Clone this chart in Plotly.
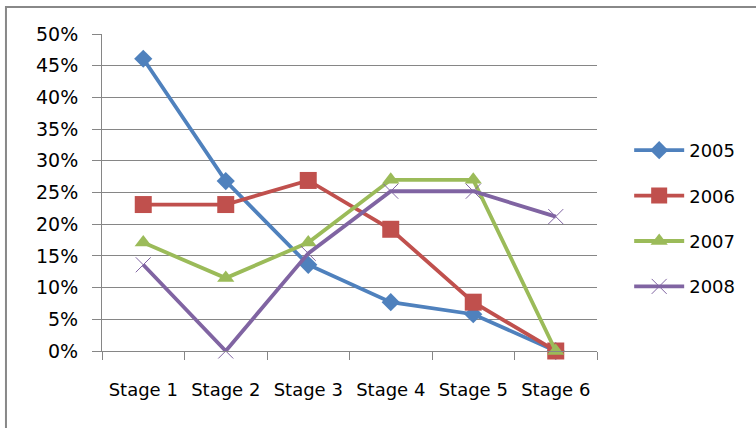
import plotly.graph_objects as go

stages = ["Stage 1", "Stage 2", "Stage 3", "Stage 4", "Stage 5", "Stage 6"]
series_names = ["2005", "2006", "2007", "2008"]
v2005 = [0.461, 0.268, 0.136, 0.077, 0.058, 0.0]
v2006 = [0.231, 0.231, 0.269, 0.192, 0.077, 0.0]
v2007 = [0.171, 0.115, 0.171, 0.270, 0.270, 0.0]
v2008 = [0.136, 0.0, 0.154, 0.252, 0.252, 0.212]
y_ticks = [0, 0.05, 0.10, 0.15, 0.20, 0.25, 0.30, 0.35, 0.40, 0.45, 0.50]

colors = ["#4F81BD", "#C0504D", "#9BBB59", "#8064A2"]
symbols = ["diamond", "square", "triangle-up", "x-thin"]
sizes = [14, 17, 15, 15]
values = [v2005, v2006, v2007, v2008]

fig = go.Figure()
for i, name in enumerate(series_names):
    fig.add_trace(go.Scatter(
        x=stages, y=values[i], name=name, mode="lines+markers",
        line=dict(color=colors[i], width=3.8),
        marker=dict(symbol=symbols[i], size=sizes[i], color=colors[i],
                    line=dict(color=colors[i], width=1 if symbols[i] == "x-thin" else 0)),
        cliponaxis=False, legendgroup=name,
    ))

grid = "#868686"
fig.update_layout(
    width=756, height=428,
    margin=dict(l=102, r=159, t=34, b=77),
    paper_bgcolor="white", plot_bgcolor="white",
    font=dict(family="DejaVu Sans", size=18, color="black"),
    showlegend=True,
    legend=dict(x=1.065, xanchor="left", y=0.418, yanchor="middle",
                font=dict(family="DejaVu Sans", size=18, color="black"),
                itemwidth=50,
                tracegroupgap=19, bgcolor="rgba(0,0,0,0)"),
    xaxis=dict(type="category", showgrid=False, showline=True, linecolor=grid, linewidth=1,
               ticks="outside", tickson="boundaries", ticklen=8, tickcolor=grid,
               ticklabelstandoff=22, range=[-0.5, 5.5]),
    yaxis=dict(range=[0, 0.5], tickvals=y_ticks, tickformat=".0%", showgrid=True,
               gridcolor=grid, gridwidth=1, showline=True, linecolor=grid, linewidth=1,
               ticks="outside", ticklen=9, tickcolor=grid, ticklabelstandoff=10,
               tickfont=dict(size=19), zeroline=False),
    shapes=[dict(type="rect", xref="paper", yref="paper",
                 x0=-0.194, x1=1.5, y0=-0.5, y1=1.085,
                 line=dict(color="#888888", width=2), layer="below")],
)

fig.write_html("out.html")
